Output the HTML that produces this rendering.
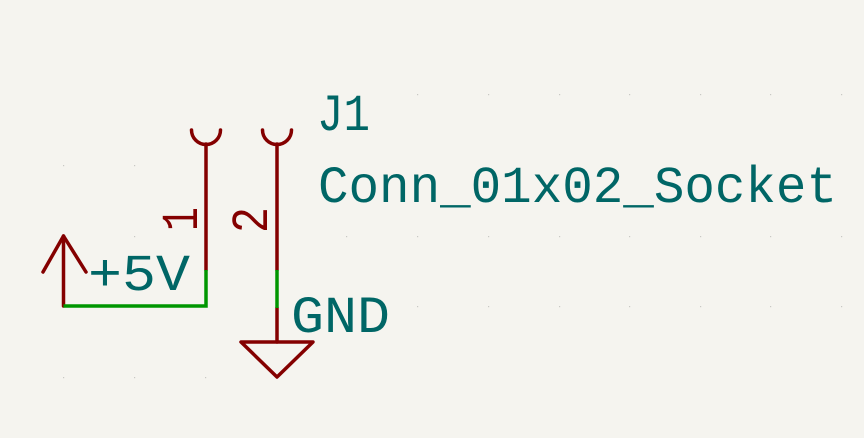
<!DOCTYPE html>
<html><head><meta charset="utf-8"><style>
html,body{margin:0;padding:0;background:#f5f4ef;}
svg{display:block}
text{font-family:"Liberation Mono",monospace;fill:#006666;}
</style></head><body>
<svg width="864" height="438" viewBox="0 0 864 438" xmlns="http://www.w3.org/2000/svg">
<rect width="864" height="438" fill="#f5f4ef"/>
<g fill="#c8c8c4">
<rect x="63" y="165" width="1.2" height="1.2"/><rect x="134" y="165" width="1.2" height="1.2"/>
<rect x="63" y="377" width="1.2" height="1.2"/><rect x="134" y="377" width="1.2" height="1.2"/><rect x="205" y="377" width="1.2" height="1.2"/>
<rect x="134" y="236" width="1.2" height="1.2"/>
<rect x="417" y="94" width="1.2" height="1.2"/><rect x="488" y="94" width="1.2" height="1.2"/><rect x="559" y="94" width="1.2" height="1.2"/><rect x="629" y="94" width="1.2" height="1.2"/><rect x="700" y="94" width="1.2" height="1.2"/><rect x="770" y="94" width="1.2" height="1.2"/><rect x="841" y="94" width="1.2" height="1.2"/>
<rect x="346" y="236" width="1.2" height="1.2"/><rect x="417" y="236" width="1.2" height="1.2"/><rect x="488" y="236" width="1.2" height="1.2"/><rect x="559" y="236" width="1.2" height="1.2"/><rect x="629" y="236" width="1.2" height="1.2"/><rect x="700" y="236" width="1.2" height="1.2"/><rect x="770" y="236" width="1.2" height="1.2"/><rect x="841" y="236" width="1.2" height="1.2"/>
<rect x="417" y="306" width="1.2" height="1.2"/><rect x="488" y="306" width="1.2" height="1.2"/><rect x="559" y="306" width="1.2" height="1.2"/><rect x="629" y="306" width="1.2" height="1.2"/><rect x="700" y="306" width="1.2" height="1.2"/><rect x="770" y="306" width="1.2" height="1.2"/><rect x="841" y="306" width="1.2" height="1.2"/>
</g>
<g fill="none" stroke="#840000" stroke-width="3.5" stroke-linecap="round" stroke-linejoin="round">
<path d="M191.5 130 A14.5 14.5 0 0 0 220.5 130"/>
<path d="M262.5 130 A14.5 14.5 0 0 0 291.5 130"/>
<line x1="206" y1="144" x2="206" y2="270"/>
<line x1="277" y1="144" x2="277" y2="270"/>
<line x1="277" y1="308" x2="277" y2="342"/>
<path d="M241 342 L313 342 L277 377 Z"/>
<line x1="63.5" y1="306" x2="63.5" y2="236"/>
<path d="M43 272 L63.5 236 L86 272"/>
</g>
<g stroke="#009600" stroke-width="3.5" fill="none">
<path d="M206 270 L206 306 L63.5 306"/>
<line x1="277" y1="270" x2="277" y2="308"/>
</g>
<text x="317" y="130" font-size="52" textLength="53" lengthAdjust="spacingAndGlyphs">J1</text>
<text x="318" y="202" font-size="52" textLength="519" lengthAdjust="spacingAndGlyphs">Conn_01x02_Socket</text>
<text x="88" y="290" font-size="52" textLength="102" lengthAdjust="spacingAndGlyphs">+5V</text>
<text x="291" y="332" font-size="52" textLength="99" lengthAdjust="spacingAndGlyphs">GND</text>
<text transform="translate(197,231) rotate(-90)" font-size="52" style="fill:#840000" textLength="24" lengthAdjust="spacingAndGlyphs">1</text>
<text transform="translate(267,233) rotate(-90)" font-size="52" style="fill:#840000" textLength="26" lengthAdjust="spacingAndGlyphs">2</text>
</svg>
</body></html>
